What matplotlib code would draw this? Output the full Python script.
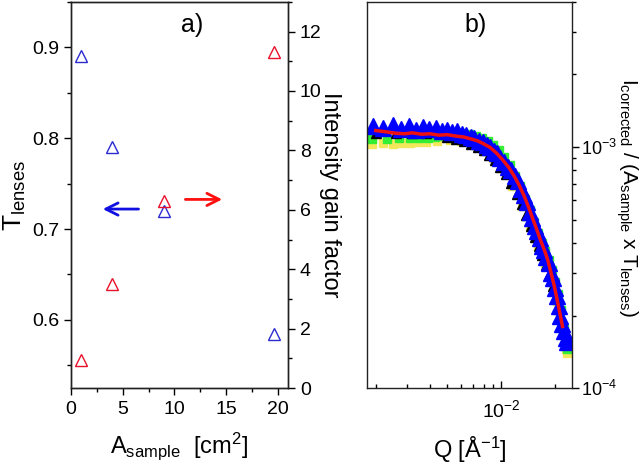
import numpy as np
import matplotlib
matplotlib.use('Agg')
import matplotlib.pyplot as plt
from matplotlib.ticker import MultipleLocator, LogLocator, NullFormatter

plt.rcParams['font.family'] = ['Liberation Sans', 'DejaVu Sans']
plt.rcParams['mathtext.fontset'] = 'custom'
plt.rcParams['mathtext.rm'] = 'Liberation Sans'
plt.rcParams['mathtext.it'] = 'Liberation Sans:italic'
plt.rcParams['mathtext.default'] = 'regular'

# panel a) lens transmission and gain vs sample area
area = [1, 4, 9, 19.6]
t_lenses = [0.89, 0.79, 0.72, 0.585]
gain = [0.94, 3.5, 6.3, 11.3]

# panel b) corrected intensities (Q in 1e-3 A^-1, I in 1e-4)
q_yellow = [1.9, 2.2, 2.5, 2.8, 3.1, 3.4, 3.8, 4.4, 5.2, 6.0, 7.0, 8.0, 9.0, 10.0,
            11.5, 13.0, 14.5, 16.0, 17.5, 19.0, 20.5, 22.0, 23.0, 23.4]
i_yellow = [10.3, 10.35, 10.3, 10.4, 10.4, 10.45, 10.5, 10.6, 10.7, 10.6, 10.3, 9.8,
            9.0, 8.2, 6.9, 5.7, 4.7, 3.9, 3.3, 2.8, 2.3, 1.8, 1.45, 1.4]

q_green = [1.9, 2.3, 2.7, 3.1, 3.5, 3.9, 4.3, 4.8, 5.4, 6.0, 6.6, 7.2, 7.8, 8.4, 9.0,
           9.7, 10.4, 11.2, 12.0, 12.8, 13.6, 14.4, 15.2, 16.0, 16.8, 17.6, 18.4,
           19.2, 20.0, 20.8, 21.6, 22.4, 23.0, 23.4]
i_green = [10.8, 10.8, 10.85, 10.9, 10.9, 10.95, 11.0, 11.1, 11.3, 11.4, 11.3, 11.1,
           10.9, 10.6, 10.2, 9.7, 9.1, 8.4, 7.6, 6.9, 6.1, 5.5, 4.9, 4.4, 4.0, 3.7,
           3.4, 3.1, 2.75, 2.45, 2.1, 1.75, 1.5, 1.45]

q_black = [2.0, 2.6, 3.2, 3.8, 4.4, 5.0, 5.6, 6.2, 6.8, 7.4, 8.0, 8.6, 9.2, 9.8, 10.6,
           11.4, 12.2, 13.0, 13.8, 14.6, 15.4, 16.2, 17.0, 17.8, 18.6, 19.4, 20.2,
           21.0, 21.8]
i_black = [11.4, 11.4, 11.4, 11.4, 11.6, 11.0, 10.8, 10.6, 10.3, 10.0, 9.7, 9.3, 8.8,
           8.3, 7.7, 7.1, 6.4, 5.8, 5.2, 4.7, 4.25, 3.9, 3.55, 3.25, 2.95, 2.65, 2.4,
           2.12, 1.88]

q_blue = [1.92, 2.2, 2.48, 2.78, 3.06, 3.36, 3.66, 3.98, 4.32, 4.66, 5.0, 5.35, 5.7,
          6.05, 6.4, 6.75, 7.1, 7.5, 7.9, 8.3, 8.7, 9.1, 9.5, 9.9, 10.4, 10.9, 11.4,
          11.9, 12.4, 12.9, 13.4, 13.9, 14.4, 14.9, 15.4, 15.9, 16.4, 16.9, 17.4,
          17.9, 18.4, 18.9, 19.4, 19.9, 20.4, 20.9, 21.4, 21.9, 22.4, 22.9, 23.3]
i_blue = [12.2, 12.0, 12.3, 11.9, 12.2, 11.8, 12.1, 11.9, 12.0, 11.7, 11.8, 11.5,
          11.6, 11.3, 11.2, 11.0, 10.9, 10.6, 10.5, 10.2, 10.0, 9.6, 9.4, 9.0, 8.7,
          8.3, 8.0, 7.6, 7.2, 6.7, 6.3, 5.9, 5.4, 5.1, 4.7, 4.5, 4.2, 3.9, 3.75, 3.5,
          3.3, 3.0, 2.85, 2.6, 2.4, 2.2, 2.0, 1.85, 1.72, 1.62, 1.55]

q_red = [2.0, 2.3, 2.6, 2.9, 3.2, 3.6, 4.0, 4.5, 5.0, 5.6, 6.2, 6.8, 7.4, 8.0, 8.7,
         9.4, 10.2, 11.0, 11.8, 12.6, 13.4, 14.2, 15.0, 15.8, 16.6, 17.4, 18.2, 19.0,
         19.8, 20.6, 21.4, 22.0]
i_red = [11.7, 11.55, 11.4, 11.35, 11.45, 11.3, 11.35, 11.2, 11.25, 11.1, 11.0, 10.8,
         10.6, 10.3, 9.95, 9.45, 8.85, 8.25, 7.6, 6.95, 6.3, 5.65, 5.05, 4.55, 4.1,
         3.75, 3.4, 3.0, 2.65, 2.3, 2.0, 1.8]

fig = plt.figure(figsize=(6.4, 4.67), dpi=100)

# ---- panel a ----
ax = fig.add_axes([0.111, 0.169, 0.339, 0.827])
axr = ax.twinx()

ax.plot(area, t_lenses, ls='none', marker='^', ms=9, mfc='none', mec='#2a2ad0', mew=1)
axr.plot(area, gain, ls='none', marker='^', ms=9, mfc='none', mec='#e8102a', mew=1)

ax.set_xlim(0, 21)
ax.set_ylim(0.525, 0.95)
axr.set_ylim(0, 13)
ax.xaxis.set_major_locator(MultipleLocator(5))
ax.xaxis.set_minor_locator(MultipleLocator(2.5))
ax.yaxis.set_major_locator(MultipleLocator(0.1))
ax.yaxis.set_minor_locator(MultipleLocator(0.05))
axr.yaxis.set_major_locator(MultipleLocator(2))
axr.yaxis.set_minor_locator(MultipleLocator(1))
ax.yaxis.set_major_formatter(plt.FormatStrFormatter('%.1f'))

for a in (ax, axr):
    a.tick_params(which='major', length=5, width=1, labelsize=14, direction='out')
    a.tick_params(which='minor', length=3, width=1, direction='out')
ax.tick_params(axis='x', pad=4)

ax.set_xlabel(r'$\mathrm{A_{sample}}$  [cm$^2$]', fontsize=17, labelpad=9)
ax.set_ylabel(r'$\mathrm{T_{lenses}}$', fontsize=19, labelpad=3)
axr.set_ylabel('Intensity gain factor', fontsize=17, rotation=270, labelpad=14)

ax.annotate('', xy=(2.8, 0.722), xytext=(6.8, 0.722),
            arrowprops=dict(arrowstyle='->', color='#1010e0', lw=2, mutation_scale=22))
axr.annotate('', xy=(14.9, 6.35), xytext=(10.8, 6.35),
             arrowprops=dict(arrowstyle='->', color='#ff1010', lw=2, mutation_scale=22))
ax.text(0.56, 0.94, 'a)', transform=ax.transAxes, fontsize=18, ha='center', va='center')

# ---- panel b ----
bx = fig.add_axes([0.573, 0.169, 0.321, 0.827])
bx.set_xscale('log')
bx.set_yscale('log')

bx.plot(np.array(q_yellow) * 1e-3, np.array(i_yellow) * 1e-4, ls='none', marker='s',
        ms=6, color='#f2e85a', mec='#f2e85a')
bx.plot(np.array(q_green) * 1e-3, np.array(i_green) * 1e-4, ls='none', marker='s',
        ms=6, color='#33ee33', mec='#33ee33')
bx.plot(np.array(q_black) * 1e-3, np.array(i_black) * 1e-4, ls='none', marker='^',
        ms=7, color='black')
bx.plot(np.array(q_blue) * 1e-3, np.array(i_blue) * 1e-4, ls='none', marker='^',
        ms=11, color='#0000ff')
bx.plot(np.array(q_red) * 1e-3, np.array(i_red) * 1e-4, color='#ee1010', lw=2.5)

bx.set_xlim(1.78e-3, 0.0249)
bx.set_ylim(1e-4, 4e-3)
bx.xaxis.set_major_locator(LogLocator(base=10))
bx.xaxis.set_minor_locator(LogLocator(base=10, subs=np.arange(2, 10)))
bx.xaxis.set_minor_formatter(NullFormatter())
bx.yaxis.set_minor_formatter(NullFormatter())
bx.yaxis.tick_right()
bx.tick_params(axis='y', which='major', length=5, width=1, labelsize=13, direction='out', pad=1.5)
bx.tick_params(axis='y', which='minor', length=3, width=1, direction='out')
bx.tick_params(axis='x', which='major', length=5, width=1, labelsize=14, direction='in', pad=8)
bx.tick_params(axis='x', which='minor', length=3, width=1, direction='in')

bx.set_xlabel(r'Q [$\mathrm{\AA^{-1}}$]', fontsize=17, labelpad=10)
fig.text(627 / 640, 1 - 197 / 467,
         r'$\mathrm{I_{corrected}}$ / ($\mathrm{A_{sample}}$ x $\mathrm{T_{lenses}}$)',
         fontsize=15, rotation=270, ha='center', va='center')
bx.text(0.53, 0.94, 'b)', transform=bx.transAxes, fontsize=18, ha='center', va='center')

for a in (ax, axr, bx):
    for s in a.spines.values():
        s.set_linewidth(1)
        s.set_color('#222222')

fig.savefig('out.png', dpi=100)
